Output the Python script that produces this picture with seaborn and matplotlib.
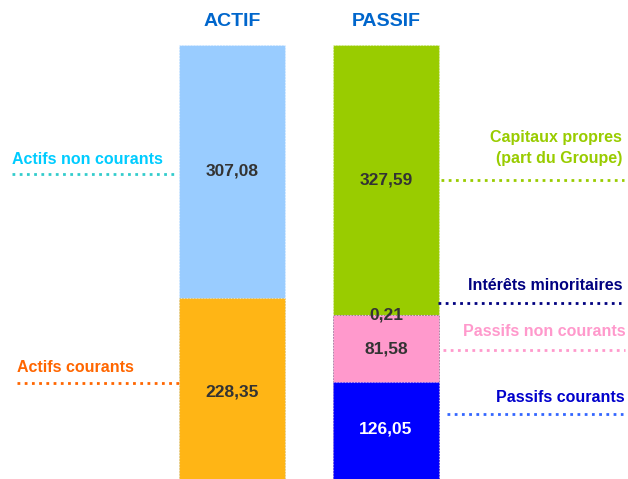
import numpy as np
import pandas as pd
import seaborn as sns
import matplotlib
matplotlib.use("Agg")
from matplotlib import pyplot as plt
from matplotlib.lines import Line2D

# data (millions)
bars = ["ACTIF", "PASSIF"]
actif_labels = ["Actifs courants", "Actifs non courants"]
actif_values = [228.35, 307.08]
passif_labels = ["Passifs courants", "Passifs non courants", "Intérêts minoritaires",
                 "Capitaux propres\n(part du Groupe)"]
passif_values = [126.05, 81.58, 0.21, 327.59]
value_text = {"ACTIF": ["228,35", "307,08"], "PASSIF": ["126,05", "81,58", "0,21", "327,59"]}

actif_colors = ["#FFB515", "#99CCFF"]
passif_colors = ["#0000FF", "#FF99CC", "#000080", "#99CC00"]
label_colors_a = ["#FF6600", "#00CCFF"]
line_colors_a = ["#FF6600", "#33CCCC"]
label_colors_p = ["#0000CC", "#FF99CC", "#000080", "#99CC00"]
line_colors_p = ["#3366FF", "#FF99CC", "#000080", "#99CC00"]

W, H = 628, 479
sns.set_style("white")
plt.rcParams['font.family'] = ['Liberation Sans', 'DejaVu Sans']
fig = plt.figure(figsize=(W / 100, H / 100), dpi=100)
ax = fig.add_axes([0, 0, 1, (H - 45) / H])

# stacked bars: draw cumulative totals from top down
layers = []
cum_a = np.cumsum(actif_values)
cum_p = np.cumsum(passif_values)
for i in range(len(passif_values) - 1, -1, -1):
    rows = [{"bar": "PASSIF", "cum": cum_p[i], "col": passif_colors[i]}]
    if i < len(actif_values):
        rows.append({"bar": "ACTIF", "cum": cum_a[i], "col": actif_colors[i]})
    df = pd.DataFrame(rows)
    pal = dict(zip(df["bar"], df["col"]))
    sns.barplot(data=df, x="bar", y="cum", hue="bar", palette=pal, order=bars,
                width=0.688, saturation=1, legend=False, ax=ax,
                edgecolor=(1, 1, 1, 0.5), linewidth=0.8, linestyle=":")

ax.set_xlim(-1.506, 2.571)
ax.set_ylim(8.5, sum(actif_values))
ax.axis("off")


def fx(px):
    return px / W


def fy(py):
    return 1 - py / H


# value labels at segment midpoints
for j, (vals, key) in enumerate([(actif_values, "ACTIF"), (passif_values, "PASSIF")]):
    c = np.cumsum(vals)
    for k, v in enumerate(vals):
        mid = c[k] - v / 2
        if key == "PASSIF" and k == 0:
            mid += 6
        col = "white" if (key == "PASSIF" and k == 0) else "#333333"
        ax.text(j, mid, value_text[key][k], ha="center", va="center",
                fontsize=12.5, fontweight="bold", color=col)

# column titles
for j, b in enumerate(bars):
    ax.text(j, 1.0, b, transform=ax.get_xaxis_transform(), ha="center", va="bottom",
            fontsize=14, fontweight="bold", color="#0066CC")
ax.texts[-2].set_position((0, 1.035))
ax.texts[-1].set_position((1, 1.035))

# side labels with dotted leaders
left_pos = [(17, 367, 17, 180, 383), (12, 159, 12, 176, 174)]
for k, (tx, ty, x0, x1, ly) in enumerate(left_pos):
    fig.text(fx(tx), fy(ty), actif_labels[k], ha="left", va="center",
             fontsize=11.5, fontweight="bold", color=label_colors_a[k])
    fig.add_artist(Line2D([fx(x0), fx(x1)], [fy(ly), fy(ly)], transform=fig.transFigure,
                          color=line_colors_a[k], lw=2, ls=(0, (1, 1.6))))

right_pos = [(625, 398, 447, 623, 414), (626, 332, 443, 625, 350),
             (622, 285, 438, 621, 303), (622, 148, 441, 624, 180)]
for k, (tx, ty, x0, x1, ly) in enumerate(right_pos):
    fig.text(fx(tx), fy(ty), passif_labels[k], ha="right", va="center", ma="right",
             fontsize=11.5, fontweight="bold", color=label_colors_p[k], linespacing=1.45)
    fig.add_artist(Line2D([fx(x0), fx(x1)], [fy(ly), fy(ly)], transform=fig.transFigure,
                          color=line_colors_p[k], lw=2, ls=(0, (1, 1.6))))

fig.savefig("out.png", dpi=100)
